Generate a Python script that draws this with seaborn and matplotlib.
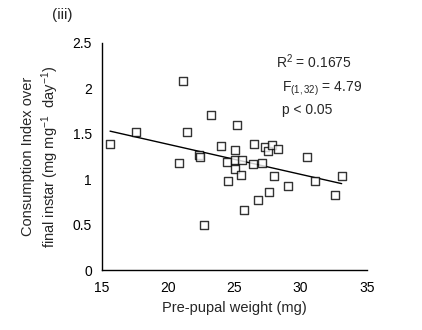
import numpy as np
import pandas as pd
import matplotlib
matplotlib.use("Agg")
import matplotlib.pyplot as plt
import seaborn as sns

# Data
prepupal_weight = [15.63, 17.57, 21.11, 21.42, 23.23, 20.83, 22.37, 22.42, 22.70,
                   23.98, 24.43, 24.51, 25.04, 25.04, 25.04, 25.19, 25.49, 25.57,
                   25.72, 26.40, 26.47, 26.77, 27.08, 27.30, 27.53, 27.59, 27.83,
                   27.97, 28.28, 29.04, 30.47, 31.08, 32.58, 33.11]
consumption_index = [1.39, 1.52, 2.08, 1.52, 1.70, 1.18, 1.27, 1.24, 0.50,
                     1.36, 1.19, 0.98, 1.32, 1.21, 1.11, 1.59, 1.05, 1.21,
                     0.66, 1.17, 1.39, 0.77, 1.18, 1.35, 1.31, 0.86, 1.38,
                     1.03, 1.33, 0.92, 1.24, 0.98, 0.83, 1.03]
x_ticks = [15, 20, 25, 30, 35]
y_ticks = [0, 0.5, 1, 1.5, 2, 2.5]
y_tick_labels = ["0", "0.5", "1", "1.5", "2", "2.5"]
stats_lines = ["R$^2$ = 0.1675", "F$_{(1,32)}$ = 4.79", "p < 0.05"]

df = pd.DataFrame({"w": prepupal_weight, "ci": consumption_index})

sns.set_theme(style="white")
plt.rcParams["font.family"] = ["Liberation Sans", "DejaVu Sans"]
plt.rcParams["mathtext.fontset"] = "custom"
plt.rcParams["mathtext.rm"] = "Liberation Sans"
plt.rcParams["mathtext.it"] = "Liberation Sans"

fig = plt.figure(figsize=(4.22, 3.30), dpi=100)
ax = fig.add_axes([0.241, 0.1818, 0.628, 0.6888])

sns.regplot(data=df, x="w", y="ci", ax=ax, ci=None, truncate=True,
            marker="s",
            scatter_kws=dict(s=26, facecolors="white", edgecolors="black",
                             linewidths=1.0, zorder=3),
            line_kws=dict(color="black", linewidth=1.0, zorder=2))

ax.set_xlim(15, 35)
ax.set_ylim(0, 2.5)
ax.set_xticks(x_ticks)
ax.set_xticklabels([str(t) for t in x_ticks])
ax.set_yticks(y_ticks)
ax.set_yticklabels(y_tick_labels)

for s in ["top", "right"]:
    ax.spines[s].set_visible(False)
for s in ["left", "bottom"]:
    ax.spines[s].set_color("black")
    ax.spines[s].set_linewidth(1.0)

ax.tick_params(axis="both", direction="inout", length=6, width=1.0,
               colors="black", labelsize=10)
ax.tick_params(axis="y", pad=4)
ax.tick_params(axis="x", pad=5)

ax.set_xlabel("Pre-pupal weight (mg)", fontsize=10.5, labelpad=4)
ax.set_ylabel("Consumption Index over\nfinal instar (mg mg$^{-1}$  day$^{-1}$)",
              fontsize=10.5, labelpad=8, linespacing=1.3)

ax.text(28.15, 2.29, stats_lines[0], fontsize=10, va="center", ha="left")
ax.text(28.6, 1.99, stats_lines[1], fontsize=10, va="center", ha="left")
ax.text(28.6, 1.76, stats_lines[2], fontsize=10, va="center", ha="left")

fig.text(0.148, 0.956, "(iii)", fontsize=11, ha="center", va="center")

fig.savefig("out.png", dpi=100)
